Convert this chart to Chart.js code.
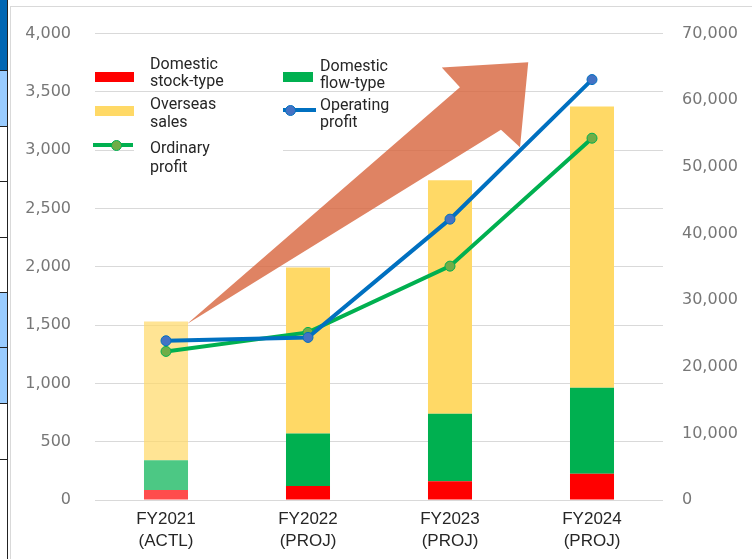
<!DOCTYPE html>
<html>
<head>
<meta charset="utf-8">
<script src="https://cdn.jsdelivr.net/npm/chart.js@4"></script>
<style>
  html, body { margin:0; padding:0; background:#fff; }
  #wrap { position:relative; width:752px; height:559px; overflow:hidden; }
  canvas { position:absolute; left:0; top:0; }
  .cell { position:absolute; left:0; width:7px; border-bottom:1px solid #222; }
  .lg { position:absolute; font-family:Roboto, "Liberation Sans", sans-serif; font-size:16px; line-height:17px; color:#262626; background:#fff; }
  .sw { position:absolute; }
</style>
</head>
<body>
<div id="wrap">
  <canvas id="c" width="752" height="559"></canvas>
  <div class="cell" style="top:0;height:70px;background:#0066B3"></div>
  <div class="cell" style="top:71px;height:55px;background:#99CCFF"></div>
  <div class="cell" style="top:127px;height:54px;background:#fff"></div>
  <div class="cell" style="top:182px;height:55px;background:#fff"></div>
  <div class="cell" style="top:238px;height:54px;background:#fff"></div>
  <div class="cell" style="top:293px;height:54px;background:#99CCFF"></div>
  <div class="cell" style="top:348px;height:55px;background:#99CCFF"></div>
  <div class="cell" style="top:404px;height:55px;background:#fff"></div>
  <div class="cell" style="top:460px;height:99px;background:#fff;border-bottom:none"></div>
  <div style="position:absolute;left:7px;top:0;width:1px;height:559px;background:#222"></div>
  <div style="position:absolute;left:10px;top:6px;width:1px;height:553px;background:#d9d9d9"></div>
  <div style="position:absolute;left:10px;top:6px;width:742px;height:1px;background:#d9d9d9"></div>

  <div class="sw" style="left:95px;top:72px;width:39px;height:10px;background:#FF0000"></div>
  <div class="lg" style="left:134px;top:55px;width:133px;height:34px;padding-left:16px">Domestic<br>stock-type</div>
  <div class="sw" style="left:95px;top:106px;width:39px;height:10px;background:#FFD966"></div>
  <div class="lg" style="left:134px;top:95px;width:133px;height:36px;padding-left:16px;line-height:18px">Overseas<br>sales</div>
  <div class="sw" style="left:93px;top:143px;width:40px;height:4px;background:#00B050"></div>
  <div class="sw" style="left:111px;top:140px;width:9px;height:9px;border-radius:50%;background:#70AD47;border:1px solid #00B050"></div>
  <div class="lg" style="left:134px;top:138px;width:133px;height:38px;padding-left:16px;line-height:19px">Ordinary<br>profit</div>

  <div class="sw" style="left:283px;top:72px;width:30px;height:10px;background:#00B050"></div>
  <div class="lg" style="left:313px;top:57px;width:98px;height:34px;padding-left:7px">Domestic<br>flow-type</div>
  <div class="sw" style="left:283px;top:108px;width:33px;height:4px;background:#0070C0"></div>
  <div class="sw" style="left:285px;top:105px;width:9px;height:9px;border-radius:50%;background:#4472C4;border:1px solid #0070C0"></div>
  <div class="lg" style="left:316px;top:96px;width:78px;height:34px;padding-left:4px">Operating<br>profit</div>
</div>
<script>
// ---- data ----
const categories = [["FY2021", "(ACTL)"], ["FY2022", "(PROJ)"], ["FY2023", "(PROJ)"], ["FY2024", "(PROJ)"]];
const domesticStock = [85, 120, 160, 225];
const domesticFlow = [255, 450, 580, 737];
const overseasSales = [1190, 1425, 2002, 2412];
const operatingProfit = [23900, 24400, 42150, 63100];
const ordinaryProfit = [22300, 25150, 35100, 54300];
const leftTicks = [0, 500, 1000, 1500, 2000, 2500, 3000, 3500, 4000];
const rightTicks = [0, 10000, 20000, 30000, 40000, 50000, 60000, 70000];
// decorative arrow outline, in (category index, left-axis value) units
const arrowIdx = [0.148, 2.07, 1.942, 2.551, 2.493, 2.359];
const arrowVal = [1510, 3540, 3710, 3755, 3025, 3175];

const fmt = v => v.toLocaleString('en-US');
const actl = (solid, faded) => categories.map((c, i) => i === 0 ? faded : solid);

const arrowPlugin = {
  id: 'arrow',
  beforeDatasetsDraw(chart) {
    const x = chart.scales.x, y = chart.scales.y, ctx = chart.ctx;
    const step = x.getPixelForValue(1) - x.getPixelForValue(0);
    ctx.save();
    ctx.beginPath();
    arrowIdx.forEach((ix, k) => {
      const px = x.getPixelForValue(0) + ix * step;
      const py = y.getPixelForValue(arrowVal[k]);
      if (k === 0) ctx.moveTo(px, py); else ctx.lineTo(px, py);
    });
    ctx.closePath();
    ctx.fillStyle = 'rgba(215,100,60,0.8)';
    ctx.fill();
    ctx.restore();
  }
};

new Chart(document.getElementById('c'), {
  data: {
    labels: categories,
    datasets: [
      { type:'line', label:'Operating profit', data: operatingProfit, yAxisID:'y1', order:0,
        borderColor:'#0070C0', borderWidth:4, pointRadius:5, pointBackgroundColor:'#4472C4',
        pointBorderColor:'#0070C0', pointBorderWidth:1, tension:0 },
      { type:'line', label:'Ordinary profit', data: ordinaryProfit, yAxisID:'y1', order:1,
        borderColor:'#00B050', borderWidth:4, pointRadius:5, pointBackgroundColor:'#70AD47',
        pointBorderColor:'#00B050', pointBorderWidth:1, tension:0 },
      { type:'bar', label:'Domestic stock-type', data: domesticStock, yAxisID:'y', stack:'s', order:2,
        backgroundColor: actl('#FF0000', 'rgba(255,0,0,0.7)'), barPercentage:0.31, categoryPercentage:1 },
      { type:'bar', label:'Domestic flow-type', data: domesticFlow, yAxisID:'y', stack:'s', order:2,
        backgroundColor: actl('#00B050', 'rgba(0,176,80,0.7)'), barPercentage:0.31, categoryPercentage:1 },
      { type:'bar', label:'Overseas sales', data: overseasSales, yAxisID:'y', stack:'s', order:2,
        backgroundColor: actl('#FFD966', 'rgba(255,217,102,0.7)'), barPercentage:0.31, categoryPercentage:1 }
    ]
  },
  options: {
    responsive:false, animation:false,
    layout: { padding: { top:24, left:0, right:0, bottom:0 } },
    plugins: { legend:{ display:false }, tooltip:{ enabled:false } },
    scales: {
      x: {
        stacked:true,
        grid:{ display:false, drawTicks:false }, border:{ display:false },
        ticks:{ color:'#262626', padding:8, maxRotation:0,
          font:{ family:'"Liberation Sans", Arial, sans-serif', size:17, lineHeight:1.3 } },
        afterFit(s){ s.height = 59; }
      },
      y: {
        position:'left', stacked:true, min:0, max:4000,
        afterBuildTicks(s){ s.ticks = leftTicks.map(v => ({ value:v })); },
        ticks:{ color:'#777', padding:24, callback: v => fmt(v),
          font:{ family:'"DejaVu Sans", sans-serif', size:16 } },
        grid:{ color:'#d9d9d9', lineWidth:1, drawTicks:false }, border:{ display:false },
        afterFit(s){ s.width = 95; }
      },
      y1: {
        position:'right', min:0, max:70000,
        afterBuildTicks(s){ s.ticks = rightTicks.map(v => ({ value:v })); },
        ticks:{ color:'#777', padding:19, callback: v => fmt(v),
          font:{ family:'"DejaVu Sans", sans-serif', size:16 } },
        grid:{ display:false, drawTicks:false }, border:{ display:false },
        afterFit(s){ s.width = 89; }
      }
    }
  },
  plugins:[arrowPlugin]
});
</script>
</body>
</html>
